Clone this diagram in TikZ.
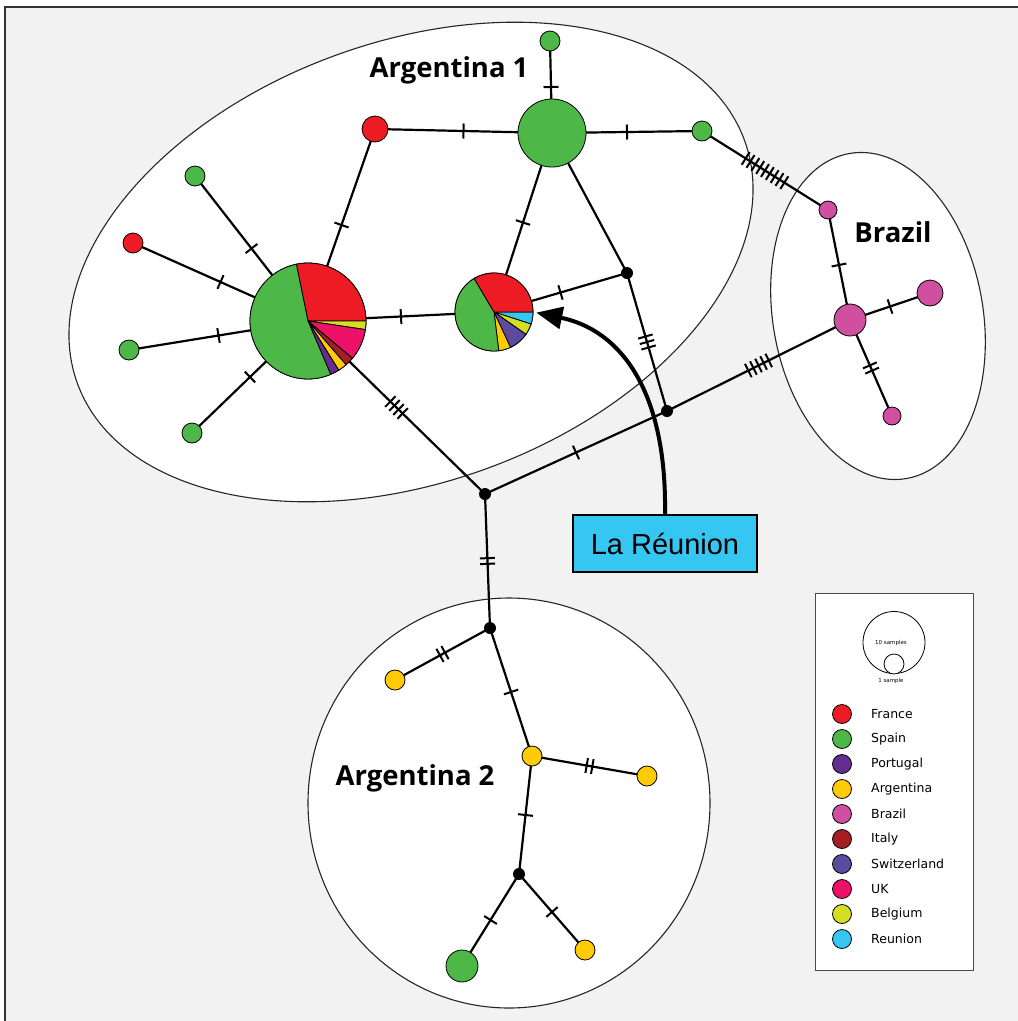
\documentclass[tikz,border=0pt]{standalone}
\usepackage{fontspec}
\setmainfont{Liberation Sans}
\newfontfamily\labelfont{Open Sans}
\newfontfamily\legendfont{DejaVu Sans}
\usetikzlibrary{arrows.meta,decorations.markings}
\pgfdeclarelayer{bg}
\pgfdeclarelayer{edges}
\pgfsetlayers{bg,edges,main}
\definecolor{france}{RGB}{237,28,36}
\definecolor{spain}{RGB}{77,184,72}
\definecolor{portugal}{RGB}{102,45,145}
\definecolor{argentina}{RGB}{255,203,5}
\definecolor{brazil}{RGB}{209,79,160}
\definecolor{italy}{RGB}{163,31,36}
\definecolor{switzerland}{RGB}{91,74,158}
\definecolor{uk}{RGB}{237,17,103}
\definecolor{belgium}{RGB}{212,222,36}
\definecolor{reunion}{RGB}{53,199,242}
\definecolor{paper}{RGB}{242,242,242}
% one wedge of a pie: centre, start, end, radius, colour
\newcommand{\pieslice}[5]{\filldraw[fill=#5, draw=black, line width=0.8pt] (#1) -- ++(#2:#4) arc[start angle=#2, end angle=#3, radius=#4] -- cycle;}
\tikzset{
    %Define standard arrow tip
    >={Triangle[length=26pt,width=22pt]},
    %Define style for haplotypes
    hap/.style={
           circle,
           draw=black, line width=0.8pt,
           inner sep=0pt,
           minimum size=#1,
           },
    hap/.default=20pt,
    joint/.style={
           circle,
           fill=black,
           inner sep=0pt,
           minimum size=12pt,
           },
    group/.style={draw=black!85, line width=1.1pt, fill=white},
    % Define edge style
    link/.style={line width=2.2pt},
    hatch/.style={postaction={decorate,decoration={markings,
           mark=at position 0.5 with {\foreach \k in {1,...,#1}
               {\draw[line width=2pt] ({(\k-(#1+1)/2)*5.7},-7.5) -- ({(\k-(#1+1)/2)*5.7},7.5);}}}}},
    hatch/.default=1,
    region/.style={font=\labelfont\bfseries\fontsize{27.5}{30}\selectfont},
    legtext/.style={font=\legendfont\fontsize{12.5}{14}\selectfont, anchor=west, inner sep=0pt},
}
\begin{document}
\begin{tikzpicture}[x=1pt,y=-1pt]
\useasboundingbox (0,0) rectangle (1018,1021);
\begin{pgfonlayer}{bg}
\fill[paper] (5,7) rectangle (1018,1021);
\draw[black!80, line width=1.5pt] (5,1021) -- (5,7) -- (1018,7);
\draw[group, rotate around={20:(411,262)}] (411,262) ellipse [x radius=355, y radius=220];
\draw[group, rotate around={10:(878,316)}] (878,316) ellipse [x radius=105, y radius=165];
\draw[group] (509,803) ellipse [x radius=201, y radius=205];
\end{pgfonlayer}
% Argentina 1
\node[hap, fill=spain] (a1top) at (550,41) {};
\node[hap=68pt, fill=spain] (hub) at (552,133) {};
\node[hap, fill=spain] (a1right) at (702,131) {};
\node[hap=26pt, fill=france] (a1red) at (375,129) {};
\node[hap, fill=spain] (g1) at (195,176) {};
\node[hap, fill=france] (r1) at (133,243) {};
\node[hap, fill=spain] (g2) at (129,350) {};
\node[hap, fill=spain] (g3) at (192,433) {};
\node[hap=116pt] (pieA) at (308,321) {};
\node[hap=78pt] (pieB) at (494,312) {};
\node[joint] (j1) at (627,273) {};
\node[joint] (j2) at (667,411) {};
\node[joint] (j3) at (485,494) {};
% Brazil
\node[hap=18pt, fill=brazil] (b1) at (828,210) {};
\node[hap=32pt, fill=brazil] (bhub) at (850,320) {};
\node[hap=26pt, fill=brazil] (b2) at (930,293) {};
\node[hap=18pt, fill=brazil] (b3) at (892,416) {};
% Argentina 2
\node[joint] (j4) at (490,628) {};
\node[hap, fill=argentina] (y1) at (395,680) {};
\node[hap, fill=argentina] (y2) at (532,756) {};
\node[hap, fill=argentina] (y3) at (647,776) {};
\node[joint] (j5) at (519,874) {};
\node[hap=32pt, fill=spain] (g4) at (462,966) {};
\node[hap, fill=argentina] (y4) at (585,950) {};
% pies
\foreach \c/\s/\e in {france/258.4/360, belgium/0/8.5, uk/8.5/40, italy/40/49,
    argentina/49/58, portugal/58/67, spain/67/258.4}
    {\pieslice{pieA.center}{\s}{\e}{58}{\c}}
\foreach \c/\s/\e in {reunion/0/18, belgium/18/35, switzerland/35/65,
    argentina/65/83, spain/83/239.4, france/239.4/360}
    {\pieslice{pieB.center}{\s}{\e}{39}{\c}}
\begin{pgfonlayer}{edges}
\path[link]
    (a1top.center) edge[hatch] (hub.center)
    (hub.center) edge[hatch] (a1right.center)
                 edge[hatch] (a1red.center)
                 edge[hatch] (pieB.center)
                 edge (j1.center)
    (j1.center) edge[hatch] (pieB.center)
                edge[hatch=3] (j2.center)
    (a1red.center) edge[hatch] (pieA.center)
    (pieA.center) edge[hatch] (pieB.center)
                  edge[hatch] (g1.center)
                  edge[hatch] (r1.center)
                  edge[hatch] (g2.center)
                  edge[hatch] (g3.center)
                  edge[hatch=4] (j3.center)
    (a1right.center) edge[hatch=9] (b1.center)
    (b1.center) edge[hatch] (bhub.center)
    (bhub.center) edge[hatch] (b2.center)
                  edge[hatch=2] (b3.center)
                  edge[hatch=5] (j2.center)
    (j2.center) edge[hatch] (j3.center)
    (j3.center) edge[hatch=2] (j4.center)
    (j4.center) edge[hatch=2] (y1.center)
                edge[hatch] (y2.center)
    (y2.center) edge[hatch=2] (y3.center)
                edge[hatch] (j5.center)
    (j5.center) edge[hatch] (g4.center)
                edge[hatch] (y4.center);
\end{pgfonlayer}
% group labels
\node[region] (lbA1) at (449,70) {Argentina 1};
\node[region] (lbBr) at (893,232) {Brazil};
\node[region] (lbA2) at (415,778) {Argentina 2};
% callout
\node[draw=black, line width=1.5pt, fill=reunion, minimum width=184pt, minimum height=57pt,
    font=\fontsize{29}{32}\selectfont] (lareunion) at (665,543.5) {La Réunion};
\draw[line width=4pt, ->, shorten >=3pt] (lareunion.north) .. controls (667,390) and (620,330) .. (pieB.east);
% legend
\node[draw=black!70, line width=1pt, fill=white, minimum width=158pt, minimum height=377pt] (legend) at (894,781.5) {};
\node[hap=62pt, fill=white] (s10) at (894,642.5) {};
\node[hap=20pt, fill=white] (s1) at (894,664) {};
\node[font=\legendfont\fontsize{5.5}{6}\selectfont] (s10txt) at (891,643) {10 samples};
\node[font=\legendfont\fontsize{5.5}{6}\selectfont] (s1txt) at (891,681) {1 sample};
\foreach \c/\t [count=\i] in {france/France, spain/Spain, portugal/Portugal, argentina/Argentina,
    brazil/Brazil, italy/Italy, switzerland/Switzerland, uk/UK, belgium/Belgium, reunion/Reunion}
    {\node[hap=19pt, fill=\c] (key\i) at (842,{714+25*(\i-1)}) {};
     \node[legtext] (keytxt\i) at (871,{714+25*(\i-1)}) {\t};}
\end{tikzpicture}
\end{document}
